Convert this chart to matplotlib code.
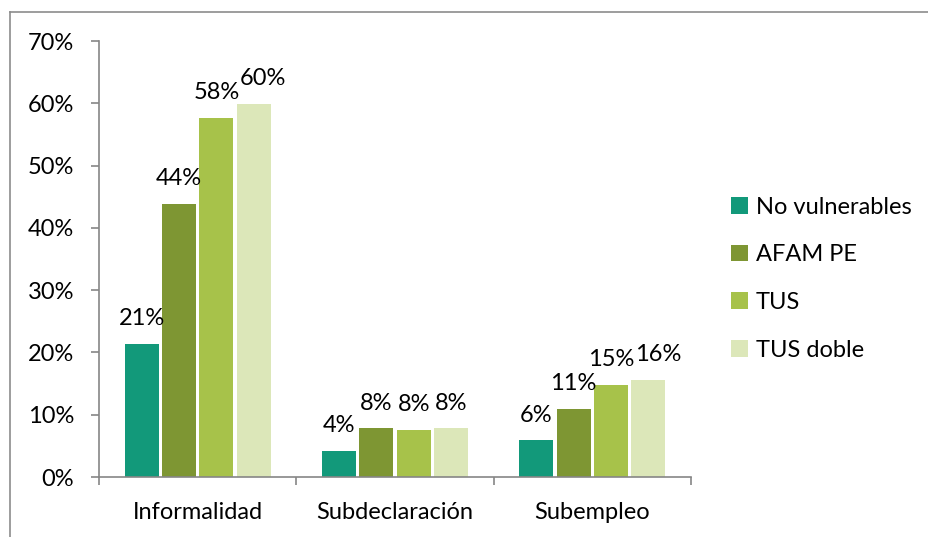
import numpy as np
import matplotlib
matplotlib.use('Agg')
from matplotlib import pyplot as plt
from matplotlib.lines import Line2D

# Chart data
categories = ['Informalidad', 'Subdeclaración', 'Subempleo']
series_names = ['No vulnerables', 'AFAM PE', 'TUS', 'TUS doble']
no_vulnerables = [21.4, 4.2, 5.9]
afam_pe = [43.8, 7.8, 10.9]
tus = [57.6, 7.6, 14.8]
tus_doble = [59.9, 7.8, 15.6]
y_ticks = [0, 10, 20, 30, 40, 50, 60, 70]

colors = ['#12997A', '#7E9633', '#A7C24A', '#DCE7B9']

plt.rcParams['font.family'] = ['Lato', 'DejaVu Sans']
FS = 17

fig = plt.figure(figsize=(9.29, 5.37), dpi=100)
ax = fig.add_axes([99 / 929, 1 - 477 / 537, (691 - 99) / 929, (477 - 41) / 537])

x = np.arange(len(categories))
step = 0.189
width = 0.172
all_series = [no_vulnerables, afam_pe, tus, tus_doble]

for j, (name, vals) in enumerate(zip(series_names, all_series)):
    pos = x + (j - 1.5) * step
    bars = ax.bar(pos, vals, width=width, color=colors[j], label=name, zorder=2)
    for i, (b, v) in enumerate(zip(bars, vals)):
        # excel nudges the last label right when it would collide
        dx = 7 if (j == 3 and i != 1) else 0
        ax.annotate('%d%%' % round(v), (b.get_x() + b.get_width() / 2, v),
                    xytext=(dx, 13.5), textcoords='offset points',
                    ha='center', va='baseline', fontsize=FS, color='black')

# Axes styling
ax.set_xlim(-0.5, 2.5)
ax.set_ylim(0, 70)
ax.set_yticks(y_ticks)
ax.set_yticklabels(['%d%%' % t for t in y_ticks], fontsize=FS)
ax.set_xticks([-0.5, 0.5, 1.5, 2.5])
ax.set_xticklabels([])
ax.set_xticks(x, minor=True)
ax.set_xticklabels(categories, minor=True, fontsize=FS)
ax.tick_params(axis='x', which='minor', length=0, pad=18)
ax.tick_params(axis='x', which='major', length=6, width=1.2, color='#868686', direction='out')
ax.tick_params(axis='y', length=6, width=1.2, color='#868686', direction='out', pad=12)

for s in ['top', 'right']:
    ax.spines[s].set_visible(False)
for s in ['left', 'bottom']:
    ax.spines[s].set_color('#868686')
    ax.spines[s].set_linewidth(1.2)

# Legend to the right
ax.legend(loc='center left', bbox_to_anchor=(1.068, 0.455), frameon=False,
          fontsize=FS, handlelength=0.7, handleheight=0.7, handletextpad=0.35,
          labelspacing=1.13, borderaxespad=0, borderpad=0)

# Outer chart border (top and left visible)
fig.add_artist(Line2D([10.5 / 929, 1], [1 - 11.5 / 537, 1 - 11.5 / 537],
                      transform=fig.transFigure, color='#8C8C8C', linewidth=1.2))
fig.add_artist(Line2D([10.5 / 929, 10.5 / 929], [0, 1 - 11.5 / 537],
                      transform=fig.transFigure, color='#8C8C8C', linewidth=1.2))

fig.savefig('out.png', dpi=100)
